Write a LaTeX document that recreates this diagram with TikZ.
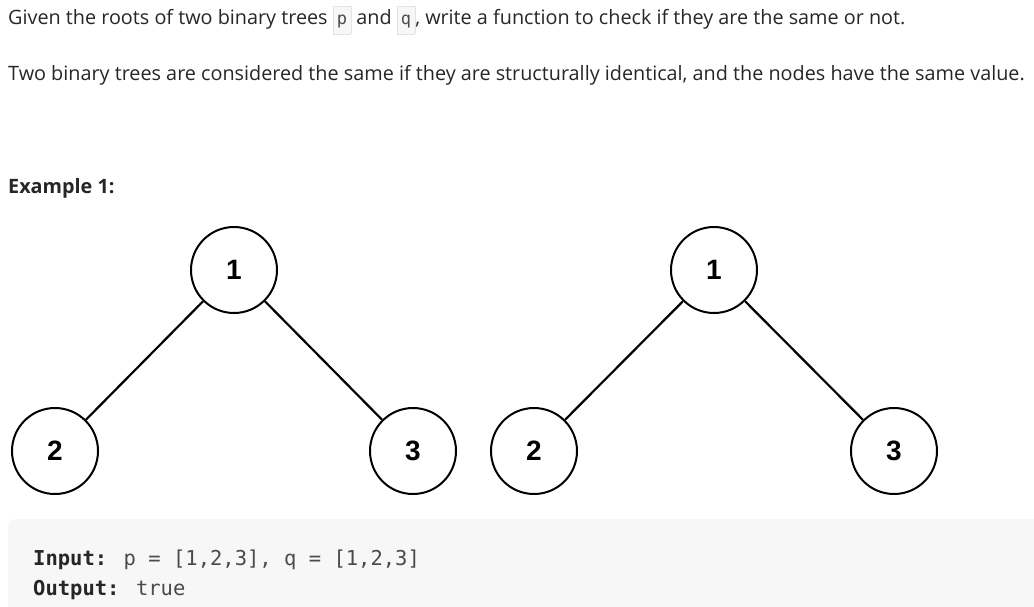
\documentclass[tikz,border=0pt]{standalone}
\usepackage{fontspec}
\setmainfont{Open Sans}
\newfontfamily\codefont{DejaVu Sans Mono}
\newfontfamily\numfont{Liberation Sans}
\definecolor{txt}{HTML}{262626}
\definecolor{codebg}{HTML}{F7F7F8}
\definecolor{codebd}{HTML}{E3E3E3}
\definecolor{codetxt}{HTML}{4A4A4A}
\newcommand\icode[1]{{\setlength\fboxsep{3.5pt}\setlength\fboxrule{0.6pt}\fcolorbox{codebd}{codebg}{\codefont\fontsize{17}{20}\selectfont\color{codetxt}\strut #1}}}
\tikzset{
  tnode/.style={circle,draw=black,line width=2pt,minimum size=86pt,inner sep=0pt,font=\numfont\bfseries\fontsize{28}{32}\selectfont},
  tedge/.style={draw=black,line width=2.2pt},
  para/.style={anchor=base west,inner sep=0pt,text=txt,font=\fontsize{19.8}{23}\selectfont},
  codeline/.style={anchor=base west,inner sep=0pt,text=codetxt,font=\codefont\fontsize{20.5}{24}\selectfont},
}
\begin{document}
\begin{tikzpicture}[x=1pt,y=-1pt]
\useasboundingbox (0,0) rectangle (1034,606);
\node[para] (l1) at (8,24) {Given the roots of two binary trees \icode{p} and \icode{q}, write a function to check if they are the same or not.};
\node[para] (l2) at (8,80) {Two binary trees are considered the same if they are structurally identical, and the nodes have the same value.};
\node[para,font=\bfseries\fontsize{19.8}{23}\selectfont] (ex) at (8,193) {Example 1:};
% left tree
\node[tnode] (a1) at (234,270) {1};
\node[tnode] (a2) at (55,451) {2};
\node[tnode] (a3) at (413,451) {3};
\draw[tedge] (a1) -- (a2);
\draw[tedge] (a1) -- (a3);
% right tree
\node[tnode] (b1) at (714,270) {1};
\node[tnode] (b2) at (534,451) {2};
\node[tnode] (b3) at (894,451) {3};
\draw[tedge] (b1) -- (b2);
\draw[tedge] (b1) -- (b3);
% code block
\fill[codebg,rounded corners=8pt] (8,519) rectangle (1050,640);
\node[codeline] (in) at (33,565) {\textbf{\color{black!85}Input:} p = [1,2,3], q = [1,2,3]};
\node[codeline] (out) at (33,595) {\textbf{\color{black!85}Output:} true};
\end{tikzpicture}
\end{document}
